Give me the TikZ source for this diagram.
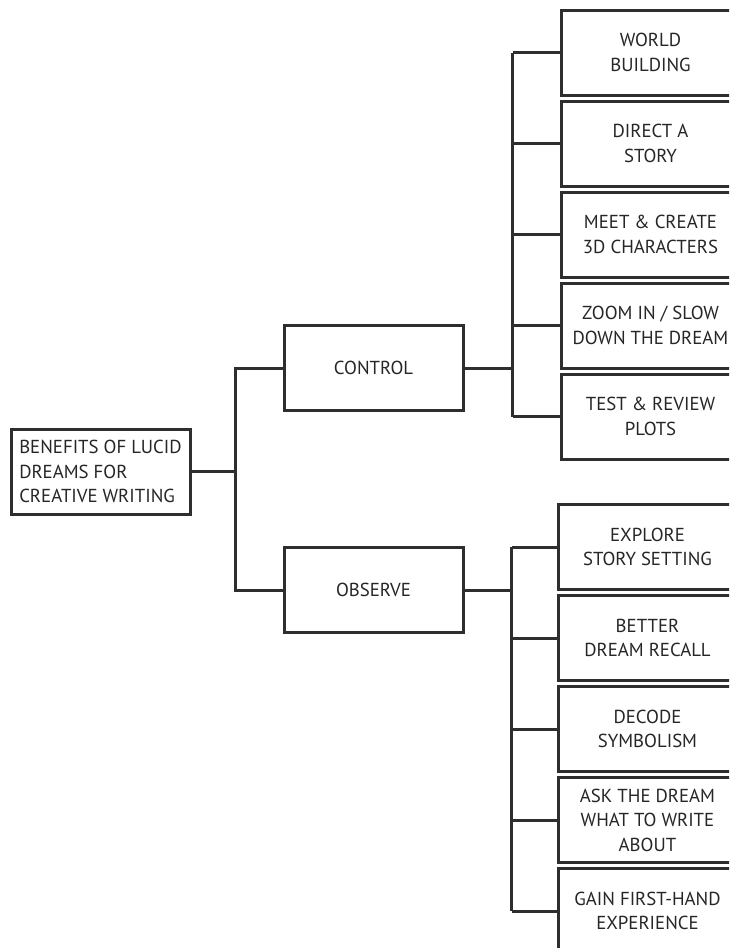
\documentclass[tikz,border=0pt]{standalone}
\usepackage[rgb]{xcolor}
\usepackage{fontspec}
\setmainfont{PT Sans}
\usepackage{tikz}

\definecolor{framegray}{HTML}{2E2E2E}
\definecolor{inkgray}{HTML}{262626}

\tikzset{
  box/.style={draw=framegray, line width=3pt, fill=white, text=inkgray,
    minimum width=179pt, minimum height=85pt, inner sep=0pt,
    font=\fontsize{18.8}{24.5}\selectfont},
  leafbox/.style={box, align=center},
  rootbox/.style={box, align=left},
  link/.style={draw=framegray, line width=3pt}
}

\begin{document}
\begin{tikzpicture}[x=1pt, y=-1pt]

\useasboundingbox (0,0) rectangle (729,948);
\clip (0,0) rectangle (729,948);

%
% Root and branches
%

\node[rootbox] (root) at (100.5,471.5)
  {BENEFITS OF LUCID\\DREAMS FOR\\CREATIVE WRITING};

\node[box] (control) at (373.5,368) {CONTROL};
\node[box] (observe) at (373.5,590) {OBSERVE};

% Trunk
\coordinate (rootbus) at (235,0);
\draw[link] (root.east) -- (root.east -| rootbus);
\draw[link] (control.west) -| (rootbus |- root.east) |- (observe.west);

%
% Control leaves
%

\node[leafbox] (world)  at (650.5,52.5)  {WORLD\\BUILDING};
\node[leafbox] (direct) at (650.5,143.5) {DIRECT A\\STORY};
\node[leafbox] (meet)   at (650.5,234.5) {MEET \& CREATE\\3D CHARACTERS};
\node[leafbox] (zoomin) at (650.5,325.5) {ZOOM IN / SLOW\\DOWN THE DREAM};
\node[leafbox] (test)   at (650.5,416.5) {TEST \& REVIEW\\PLOTS};

\coordinate (ctrlbus) at (512.5,0);
\draw[link] (control.east) -- (control.east -| ctrlbus);
\draw[link] (ctrlbus |- world.west) -- (ctrlbus |- test.west);
\draw[link] (ctrlbus |- world.west) -- (world.west);
\draw[link] (ctrlbus |- direct.west) -- (direct.west);
\draw[link] (ctrlbus |- meet.west) -- (meet.west);
\draw[link] (ctrlbus |- zoomin.west) -- (zoomin.west);
\draw[link] (ctrlbus |- test.west) -- (test.west);

%
% Observe leaves
%

\node[leafbox] (explore) at (647.5,547)  {EXPLORE\\STORY SETTING};
\node[leafbox] (recall)  at (647.5,638)  {BETTER\\DREAM RECALL};
\node[leafbox] (decode)  at (647.5,729)  {DECODE\\SYMBOLISM};
\node[leafbox] (ask)     at (647.5,820)  {ASK THE DREAM\\WHAT TO WRITE\\ABOUT};
\node[leafbox] (gain)    at (647.5,911)  {GAIN FIRST-HAND\\EXPERIENCE};

\coordinate (obsbus) at (511.5,0);
\draw[link] (observe.east) -- (observe.east -| obsbus);
\draw[link] (obsbus |- explore.west) -- (obsbus |- gain.west);
\draw[link] (obsbus |- explore.west) -- (explore.west);
\draw[link] (obsbus |- recall.west) -- (recall.west);
\draw[link] (obsbus |- decode.west) -- (decode.west);
\draw[link] (obsbus |- ask.west) -- (ask.west);
\draw[link] (obsbus |- gain.west) -- (gain.west);

\end{tikzpicture}
\end{document}
